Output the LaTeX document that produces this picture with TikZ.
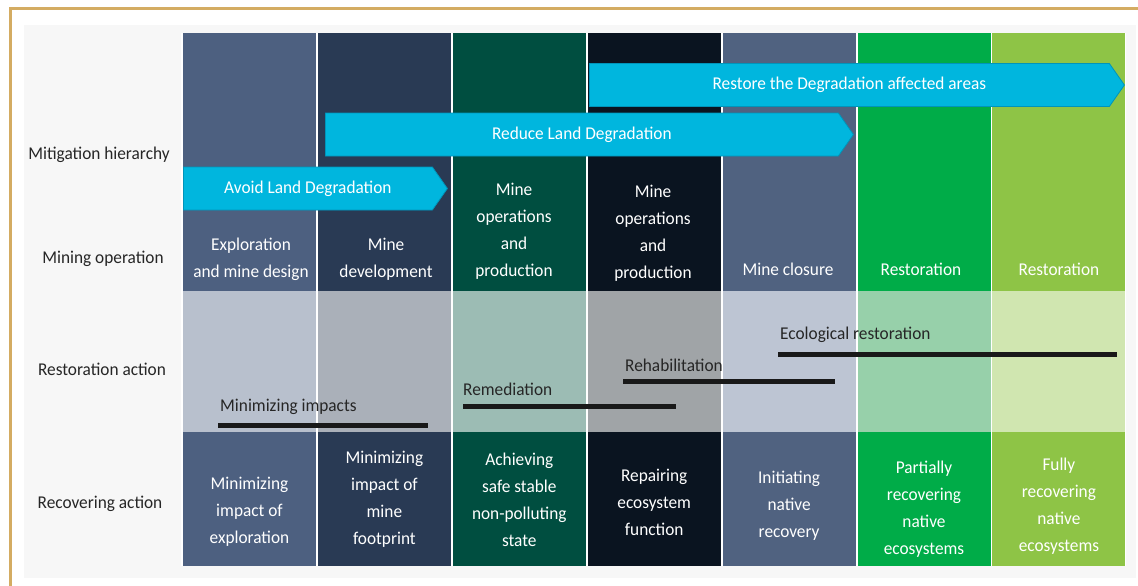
\documentclass[tikz,border=0pt]{standalone}
\usepackage{fontspec}
\setmainfont{Carlito}[FakeStretch=0.96]
\usetikzlibrary{shapes.symbols,positioning}

% column colours: dark (operation / recovering) and light (restoration)
\definecolor{slate}{RGB}{77,96,128}
\definecolor{slatelt}{RGB}{184,192,205}
\definecolor{navy}{RGB}{41,58,84}
\definecolor{navylt}{RGB}{170,176,185}
\definecolor{pine}{RGB}{0,78,64}
\definecolor{pinelt}{RGB}{156,188,180}
\definecolor{ink}{RGB}{10,20,32}
\definecolor{inklt}{RGB}{160,164,167}
\definecolor{dusk}{RGB}{80,98,128}
\definecolor{dusklt}{RGB}{189,197,211}
\definecolor{leaf}{RGB}{0,172,72}
\definecolor{leaflt}{RGB}{151,208,170}
\definecolor{lime}{RGB}{142,196,70}
\definecolor{limelt}{RGB}{208,230,176}
\definecolor{sky}{RGB}{0,182,222}
\definecolor{skyedge}{RGB}{0,148,186}
\definecolor{gold}{RGB}{212,172,98}
\definecolor{panel}{RGB}{247,247,247}

\tikzset{cell/.style={rectangle,minimum width=133,inner sep=0pt}}
\tikzset{topcell/.style={cell,minimum height=258}}
\tikzset{restcell/.style={cell,minimum height=141}}
\tikzset{reccell/.style={cell,minimum height=134}}
\tikzset{optext/.style={anchor=south,align=center,text=white,inner sep=0pt}}
\tikzset{rectext/.style={align=center,text=white,inner sep=0pt}}
\tikzset{rowname/.style={text=black!85}}
\tikzset{goal/.style={signal,signal to=east,signal pointer angle=110,draw=skyedge,fill=sky,text=white,thick,minimum height=43,inner sep=0pt,anchor=west}}
\tikzset{actname/.style={anchor=west,text=black!85,inner sep=0pt}}
\tikzset{bar/.style={line width=5pt,black!90}}

\begin{document}
\begin{tikzpicture}[x=1pt,y=-1pt,every node/.style={font=\fontsize{18}{27}\selectfont}]
\useasboundingbox (0,0) rectangle (1138,586);
\fill[white] (0,0) rectangle (1138,586);
\fill[panel] (24,25) rectangle (1136,578);
\draw[gold,line width=3pt] (10,586) -- (10,9) -- (1138,9);
\fill[white] (181,33) rectangle (1126,566);

% row names
\node (hierarchy) [rowname] at (99,155) {Mitigation hierarchy};
\node (operation) [rowname] at (103,259) {Mining operation};
\node (restoration) [rowname] at (102,369) {Restoration action};
\node (recovering) [rowname] at (100,504) {Recovering action};

% operation block
\node (t1) [topcell,fill=slate] at (249.5,162) {};
\node (t2) [topcell,fill=navy] at (384.4,162) {};
\node (t3) [topcell,fill=pine] at (519.3,162) {};
\node (t4) [topcell,fill=ink] at (654.2,162) {};
\node (t5) [topcell,fill=dusk] at (789.1,162) {};
\node (t6) [topcell,fill=leaf] at (924.0,162) {};
\node (t7) [topcell,fill=lime] at (1058.9,162) {};

\node (op1) [optext] at (251,281) {Exploration\\and mine design};
\node (op2) [optext] at (386,281) {Mine\\development};
\node (op3) [optext] at (514,280) {Mine\\operations\\and\\production};
\node (op4) [optext] at (653,282) {Mine\\operations\\and\\production};
\node (op5) [optext] at (788,276) {Mine closure};
\node (op6) [optext] at (921,276) {Restoration};
\node (op7) [optext] at (1059,276) {Restoration};

% restoration row
\node (r1) [restcell,fill=slatelt] at (249.5,361.5) {};
\node (r2) [restcell,fill=navylt] at (384.4,361.5) {};
\node (r3) [restcell,fill=pinelt] at (519.3,361.5) {};
\node (r4) [restcell,fill=inklt] at (654.2,361.5) {};
\node (r5) [restcell,fill=dusklt] at (789.1,361.5) {};
\node (r6) [restcell,fill=leaflt] at (924.0,361.5) {};
\node (r7) [restcell,fill=limelt] at (1058.9,361.5) {};

% recovering row
\node (v1) [reccell,fill=slate] at (249.5,499) {};
\node (v2) [reccell,fill=navy] at (384.4,499) {};
\node (v3) [reccell,fill=pine] at (519.3,499) {};
\node (v4) [reccell,fill=ink] at (654.2,499) {};
\node (v5) [reccell,fill=dusk] at (789.1,499) {};
\node (v6) [reccell,fill=leaf] at (924.0,499) {};
\node (v7) [reccell,fill=lime] at (1058.9,499) {};

\node (rc1) [rectext] at ([yshift=-13]v1.center) {Minimizing\\impact of\\exploration};
\node (rc2) [rectext] at (v2.center) {Minimizing\\impact of\\mine\\footprint};
\node (rc3) [rectext] at ([yshift=-1]v3.center) {Achieving\\safe stable\\non-polluting\\state};
\node (rc4) [rectext] at ([yshift=-3]v4.center) {Repairing\\ecosystem\\function};
\node (rc5) [rectext] at ([yshift=-7]v5.center) {Initiating\\native\\recovery};
\node (rc6) [rectext] at ([yshift=-10]v6.center) {Partially\\recovering\\native\\ecosystems};
\node (rc7) [rectext] at ([yshift=-7]v7.center) {Fully\\recovering\\native\\ecosystems};

% mitigation hierarchy arrows
\node (restore) [goal,minimum width=535] at (589,85) {Restore the Degradation affected areas};
\node (reduce) [goal,minimum width=528] at (325,134.5) {Reduce Land Degradation};
\node (avoid) [goal,minimum width=264] at (183,188.5) {Avoid Land Degradation};

% restoration actions and their spans
\node (minimize) [actname] at (220,407) {Minimizing impacts};
\node (remediate) [actname] at (463,389) {Remediation};
\node (rehab) [actname] at (625,365) {Rehabilitation};
\node (eco) [actname] at (780,335) {Ecological restoration};
\coordinate (minimize-a) at (218,425);
\coordinate (minimize-b) at (428,425);
\coordinate (remediate-a) at (463,406);
\coordinate (remediate-b) at (676,406);
\coordinate (rehab-a) at (623,381.5);
\coordinate (rehab-b) at (835,381.5);
\coordinate (eco-a) at (778,354);
\coordinate (eco-b) at (1117,354);
\draw[bar] (minimize-a) -- (minimize-b);
\draw[bar] (remediate-a) -- (remediate-b);
\draw[bar] (rehab-a) -- (rehab-b);
\draw[bar] (eco-a) -- (eco-b);
\end{tikzpicture}
\end{document}
